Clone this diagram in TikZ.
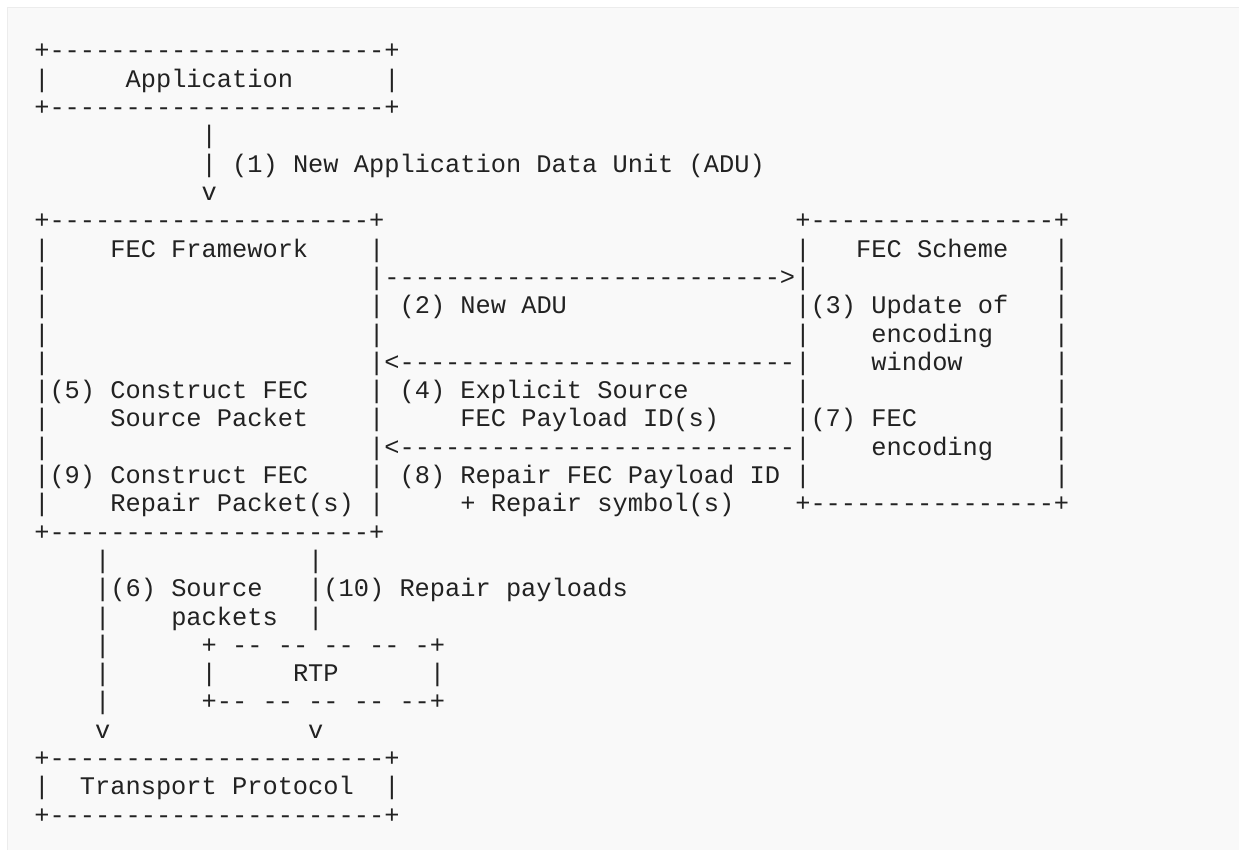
\documentclass[tikz,border=0pt]{standalone}
\usepackage{fontspec}
\setmonofont{Liberation Mono}
\definecolor{pagebg}{HTML}{F9F9F9}
\definecolor{pageframe}{HTML}{ECECEC}
\definecolor{ink}{HTML}{222222}

\begin{document}
\begin{tikzpicture}[
    art/.style={font=\ttfamily\fontsize{25.36}{28.3}\selectfont,text=ink,inner sep=0pt,anchor=base west},
    grid/.style={shift={(34.1pt,-59pt)},x=15.22pt,y=-28.3pt},
  ]
\useasboundingbox (0pt,0pt) rectangle (1239pt,-850pt);
\fill[white] (0pt,0pt) rectangle (1239pt,-850pt);
\fill[pagebg] (7.5pt,-7.5pt) rectangle (1239pt,-850pt);
\draw[pageframe,line width=1.5pt] (1239pt,-7.5pt) -- (7.5pt,-7.5pt) -- (7.5pt,-850pt);

\begin{scope}[grid]
% application box and the new ADU arrow
\node (app top) [art] at (0,0) {+----------------------+};
\node (app) [art] at (0,1) {|~~~~~Application~~~~~~|};
\node (app bottom) [art] at (0,2) {+----------------------+};
\node (adu stem) [art] at (11,3) {|};
\node (adu label) [art] at (11,4) {|~(1)~New~Application~Data~Unit~(ADU)};
\node (adu head) [art] at (11,5) {v};

% FEC framework box
\node (fw top) [art] at (0,6) {+---------------------+};
\node (fw title) [art] at (0,7) {|~~~~FEC~Framework~~~~|};
\node (fw row3) [art] at (0,8) {|~~~~~~~~~~~~~~~~~~~~~|};
\node (fw row4) [art] at (0,9) {|~~~~~~~~~~~~~~~~~~~~~|};
\node (fw row5) [art] at (0,10) {|~~~~~~~~~~~~~~~~~~~~~|};
\node (fw row6) [art] at (0,11) {|~~~~~~~~~~~~~~~~~~~~~|};
\node (fw step5) [art] at (0,12) {|(5)~Construct~FEC~~~~|};
\node (fw step5b) [art] at (0,13) {|~~~~Source~Packet~~~~|};
\node (fw row9) [art] at (0,14) {|~~~~~~~~~~~~~~~~~~~~~|};
\node (fw step9) [art] at (0,15) {|(9)~Construct~FEC~~~~|};
\node (fw step9b) [art] at (0,16) {|~~~~Repair~Packet(s)~|};
\node (fw bottom) [art] at (0,17) {+---------------------+};

% messages between framework and scheme
\node (new adu arrow) [art] at (23,8) {-------------------------->};
\node (new adu) [art] at (24,9) {(2)~New~ADU};
\node (source id arrow) [art] at (23,11) {<--------------------------};
\node (source id) [art] at (24,12) {(4)~Explicit~Source};
\node (source id b) [art] at (28,13) {FEC~Payload~ID(s)};
\node (repair arrow) [art] at (23,14) {<--------------------------};
\node (repair) [art] at (24,15) {(8)~Repair~FEC~Payload~ID};
\node (repair b) [art] at (28,16) {+~Repair~symbol(s)};

% FEC scheme box
\node (scheme top) [art] at (50,6) {+----------------+};
\node (scheme title) [art] at (50,7) {|~~~FEC~Scheme~~~|};
\node (scheme row3) [art] at (50,8) {|~~~~~~~~~~~~~~~~|};
\node (scheme step3) [art] at (50,9) {|(3)~Update~of~~~|};
\node (scheme step3b) [art] at (50,10) {|~~~~encoding~~~~|};
\node (scheme step3c) [art] at (50,11) {|~~~~window~~~~~~|};
\node (scheme row7) [art] at (50,12) {|~~~~~~~~~~~~~~~~|};
\node (scheme step7) [art] at (50,13) {|(7)~FEC~~~~~~~~~|};
\node (scheme step7b) [art] at (50,14) {|~~~~encoding~~~~|};
\node (scheme row10) [art] at (50,15) {|~~~~~~~~~~~~~~~~|};
\node (scheme bottom) [art] at (50,16) {+----------------+};

% payload paths through RTP
\node (paths top) [art] at (4,18) {|~~~~~~~~~~~~~|};
\node (paths label) [art] at (4,19) {|(6)~Source~~~|(10)~Repair~payloads};
\node (paths label b) [art] at (4,20) {|~~~~packets~~|};
\node (rtp top) [art] at (4,21) {|~~~~~~+~--~--~--~--~-+};
\node (rtp) [art] at (4,22) {|~~~~~~|~~~~~RTP~~~~~~|};
\node (rtp bottom) [art] at (4,23) {|~~~~~~+--~--~--~--~--+};
\node (paths heads) [art] at (4,24) {v~~~~~~~~~~~~~v};

% transport protocol box
\node (tp top) [art] at (0,25) {+----------------------+};
\node (tp) [art] at (0,26) {|~~Transport~Protocol~~|};
\node (tp bottom) [art] at (0,27) {+----------------------+};
\end{scope}
\end{tikzpicture}
\end{document}
